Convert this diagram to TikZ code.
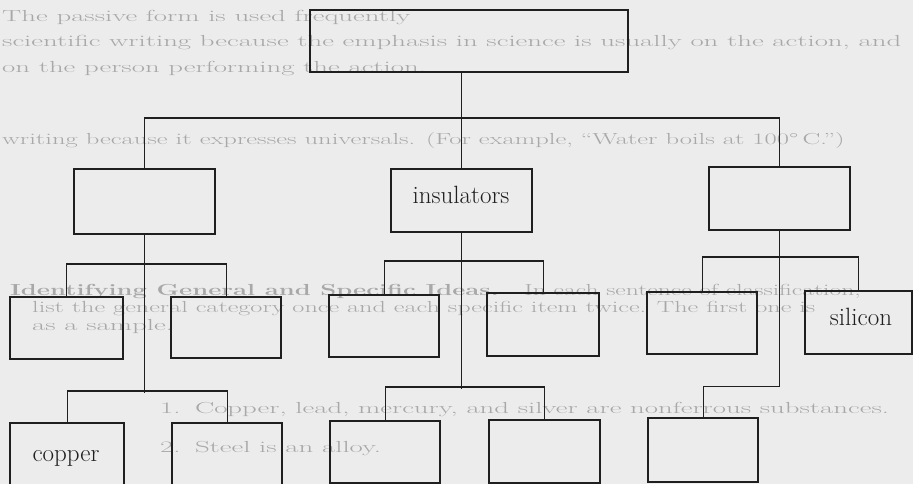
\documentclass[tikz,border=0pt]{standalone}
\usepackage{graphicx}
\usetikzlibrary{calc}
\definecolor{paper}{gray}{0.925}
\definecolor{ink}{gray}{0.12}
\definecolor{faint}{gray}{0.66}
\tikzset{
  box/.style={draw=ink, line width=2.3pt, inner sep=0pt, anchor=north west},
  conn/.style={draw=ink, line width=1.3pt},
  lbl/.style={inner sep=0pt, anchor=base, font=\fontsize{25}{30}\selectfont, text=ink},
  bgtext/.style={inner sep=0pt, anchor=base west, text=faint, font=\fontsize{16}{19}\selectfont},
}
\newcommand{\bx}[5]{%
  \pgfmathsetmacro\bxw{#4-#2}\pgfmathsetmacro\bxh{#5-#3}%
  \node[box, minimum width=\bxw pt, minimum height=\bxh pt] (#1) at (#2,#3) {};}
\newcommand{\bgline}[5][1.8]{\node[bgtext] (#2) at (#3,#4) {\scalebox{#1}[1]{#5}};}
\begin{document}
\begin{tikzpicture}[x=1pt,y=-1pt]
\useasboundingbox (0,0) rectangle (913,484);
\clip (0,0) rectangle (913,484);
\fill[paper] (0,0) rectangle (913,484);
% faint page text behind the diagram
\bgline{bg1}{2}{22}{The passive form is used frequently}
\bgline{bg2}{2}{47}{scientific writing because the emphasis in science is usually on the action, and}
\bgline{bg3}{2}{73}{on the person performing the action.}
\bgline[1.66]{bg4}{2}{145}{writing because it expresses universals. (For example, ``Water boils at 100\textdegree\,C.'')}
\bgline[1.6]{bg5}{10}{295}{\textbf{Identifying General and Specific Ideas.}\quad In each sentence of classification,}
\bgline[1.64]{bg6}{32}{312}{list the general category once and each specific item twice. The first one is}
\bgline{bg7}{32}{330}{as a sample.}
\bgline{bg8}{160}{413}{1.\enspace Copper, lead, mercury, and silver are nonferrous substances.}
\bgline{bg9}{160}{452}{2.\enspace Steel is an alloy.}
% boxes
\bx{root}{309}{9}{627}{71}
\bx{L}{73}{168}{214}{233}
\bx{I}{390}{168}{531}{231}
\bx{R}{708}{166}{849}{229}
\bx{a1}{9}{296}{122}{358}
\bx{a2}{170}{296}{280}{357}
\bx{b1}{328}{294}{438}{356}
\bx{b2}{486}{292}{598}{355}
\bx{c1}{646}{291}{756}{353}
\bx{c2}{804}{290}{911}{353}
\bx{a3}{9}{422}{123}{495}
\bx{a4}{171}{422}{281}{495}
\bx{b3}{329}{420}{439}{482}
\bx{b4}{488}{419}{599}{482}
\bx{c3}{647}{417}{757}{481}
% labels
\node[lbl] (tI) at (461,203) {insulators};
\node[lbl] (tS) at (861,325) {silicon};
\node[lbl] (tC) at (66,461) {copper};
% connectors
\draw[conn] (I.north) -- (I.north |- root.south);
\draw[conn] (L.north) -- ++(0,-50) -| (R.north);
\draw[conn] (L.south) -- ++(0,158);
\draw[conn] (a1.north) -- ++(0,-32) -| (a2.north);
\draw[conn] (a3.north) -- ++(0,-31) -| (a4.north);
\draw[conn] (I.south) -- ++(0,156);
\draw[conn] (b1.north) -- ++(0,-33) -| (b2.north);
\draw[conn] (b3.north) -- ++(0,-33) -| (b4.north);
\draw[conn] (R.south) -- ++(0,155) -| (c3.north);
\draw[conn] (c1.north) -- ++(0,-34) -| (c2.north);
\end{tikzpicture}
\end{document}
